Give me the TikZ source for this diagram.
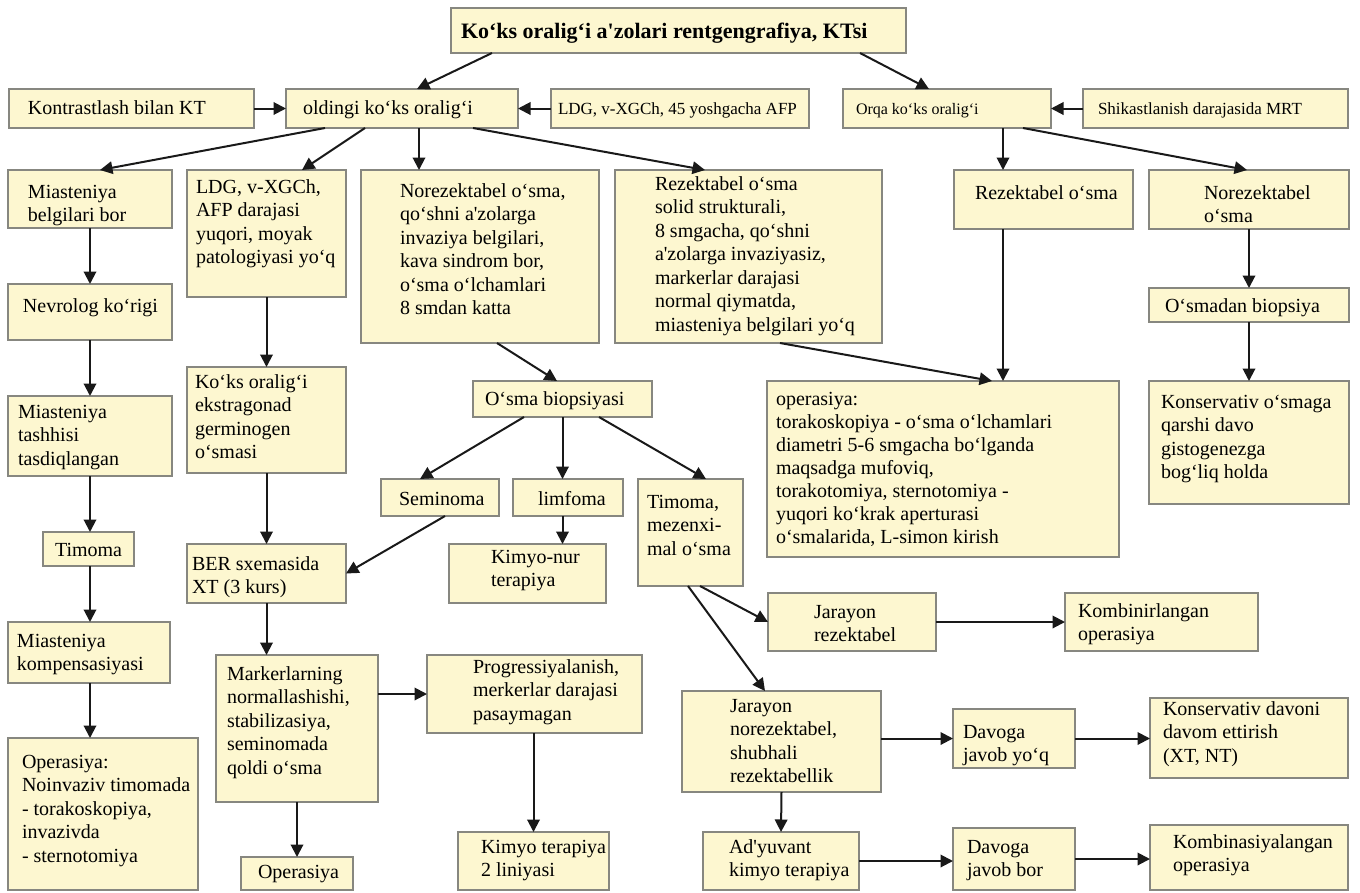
\documentclass[tikz,border=0pt]{standalone}
\usepackage{fontspec}
\setmainfont{Liberation Serif}[Ligatures=TeXOff]
\usetikzlibrary{arrows.meta}

\definecolor{boxfill}{RGB}{253,247,208}
\definecolor{boxline}{RGB}{135,135,128}
\definecolor{arrowcol}{RGB}{25,25,25}

% fixed-height strut so that every first baseline sits at a known depth
\newcommand\tstrut{\rule{0pt}{15pt}}
% \bx[opts]{name}{x1}{y1}{x2}{y2}{text x}{first baseline y}{text}
\newcommand\bx[9][]{%
  \pgfmathsetmacro\bxw{#5-#3}%
  \pgfmathsetmacro\bxh{#6-#4}%
  \pgfmathsetmacro\bxl{#7-#3}%
  \pgfmathsetmacro\bxt{#8-#4-15}%
  \node[box,#1] (#2) at (#3,#4)
    {\parbox[c][\bxh pt][t]{\bxw pt}{\raggedright\leftskip=\bxl pt\relax
      \vspace*{\bxt pt}\tstrut#9}};%
}

\tikzset{
  box/.style={draw=boxline, fill=boxfill, line width=1.4pt, inner sep=0pt,
    outer sep=0pt, anchor=north west, font=\fontsize{20}{23.5}\selectfont},
  small/.style={font=\fontsize{17}{20}\selectfont},
  arr/.style={draw=arrowcol, line width=2pt,
    -{Triangle[length=12.5pt,width=12.5pt]}},
}

\begin{document}
\begin{tikzpicture}[x=1pt,y=-1pt]
\fill[white] (0,0) rectangle (1360,892);
\useasboundingbox (0,0) rectangle (1360,892);

% ---- top rows ----
\bx[font=\fontsize{22}{26}\selectfont\bfseries]{title}{451}{8}{906}{53}{461}{38}{Ko‘ks oralig‘i a'zolari rentgengrafiya, KTsi}
\bx{kt}{9}{89}{254}{128}{28}{114}{Kontrastlash bilan KT}
\bx{old}{286}{89}{518}{128}{303}{114}{oldingi ko‘ks oralig‘i}
\bx[small]{ldgA}{551}{89}{809}{128}{558}{114}{LDG, v-XGCh, 45 yoshgacha AFP}
\bx[font=\fontsize{16}{20}\selectfont]{orqa}{843}{89}{1051}{128}{856}{114}{Orqa ko‘ks oralig‘i}
\bx[small]{shik}{1083}{89}{1348}{128}{1098}{114}{Shikastlanish darajasida MRT}

\bx{mias}{8}{170}{172}{228}{28}{198}{Miasteniya\\belgilari bor}
\bx{ldgB}{187}{170}{346}{297}{196}{193}{LDG, v-XGCh,\\AFP darajasi\\yuqori, moyak\\patologiyasi yo‘q}
\bx{norez}{361}{170}{599}{343}{400}{197}{Norezektabel o‘sma,\\qo‘shni a'zolarga\\invaziya belgilari,\\kava sindrom bor,\\o‘sma o‘lchamlari\\8 smdan katta}
\bx{rezA}{615}{170}{882}{343}{655}{190}{Rezektabel o‘sma\\solid strukturali,\\8 smgacha, qo‘shni\\a'zolarga invaziyasiz,\\markerlar darajasi\\normal qiymatda,\\miasteniya belgilari yo‘q}
\bx{rezB}{954}{170}{1133}{229}{975}{199}{Rezektabel o‘sma}
\bx{norezB}{1149}{170}{1349}{229}{1204}{199}{Norezektabel\\o‘sma}

% ---- left column ----
\bx{nevr}{8}{284}{172}{340}{23}{312}{Nevrolog ko‘rigi}
\bx{tash}{8}{396}{172}{476}{18}{418}{Miasteniya\\tashhisi\\tasdiqlangan}
\bx{timA}{43}{532}{134}{566}{55}{556}{Timoma}
\bx{komp}{8}{622}{170}{683}{17}{647}{Miasteniya\\kompensasiyasi}
\bx{operB}{8}{738}{198}{890}{22}{768}{Operasiya:\\Noinvaziv timomada\\- torakoskopiya,\\invazivda\\- sternotomiya}

% ---- germinogen branch ----
\bx{ekst}{187}{367}{346}{473}{195}{388}{Ko‘ks oralig‘i\\ekstragonad\\germinogen\\o‘smasi}
\bx{ber}{187}{544}{346}{603}{192}{570}{BER sxemasida\\XT (3 kurs)}
\bx{mark}{216}{655}{378}{802}{227}{680}{Markerlarning\\normallashishi,\\stabilizasiya,\\seminomada\\qoldi o‘sma}
\bx{operC}{241}{857}{353}{890}{258}{878}{Operasiya}
\bx{prog}{427}{655}{642}{733}{473}{673}{Progressiyalanish,\\merkerlar darajasi\\pasaymagan}
\bx{kim2}{458}{832}{609}{890}{481}{853}{Kimyo terapiya\\2 liniyasi}

% ---- biopsy branch ----
\bx{obiop}{473}{381}{652}{417}{485}{405}{O‘sma biopsiyasi}
\bx{semi}{381}{479}{499}{516}{399}{505}{Seminoma}
\bx{limf}{513}{479}{623}{516}{538}{505}{limfoma}
\bx{timom}{638}{479}{743}{586}{647}{508}{Timoma,\\mezenxi-\\mal o‘sma}
\bx{kimnur}{449}{544}{606}{603}{491}{563}{Kimyo-nur\\terapiya}

% ---- resectable tumour ----
\bx[font=\fontsize{20}{23}\selectfont]{operA}{767}{381}{1119}{557}{776}{405}{operasiya:\\torakoskopiya - o‘sma o‘lchamlari\\diametri 5-6 smgacha bo‘lganda\\maqsadga mufoviq,\\torakotomiya, sternotomiya -\\yuqori ko‘krak aperturasi\\o‘smalarida, L-simon kirish}

% ---- posterior mediastinum, right column ----
\bx{osmadan}{1149}{288}{1349}{322}{1165}{312}{O‘smadan biopsiya}
\bx{kons1}{1149}{381}{1349}{504}{1161}{408}{Konservativ o‘smaga\\qarshi davo\\gistogenezga\\bog‘liq holda}

% ---- thymoma outcomes ----
\bx{jrez}{768}{593}{936}{651}{814}{618}{Jarayon\\rezektabel}
\bx{komb1}{1065}{593}{1258}{651}{1078}{617}{Kombinirlangan\\operasiya}
\bx{jnorez}{682}{691}{881}{792}{730}{712}{Jarayon\\norezektabel,\\shubhali\\rezektabellik}
\bx{davyoq}{953}{709}{1075}{768}{963}{738}{Davoga\\javob yo‘q}
\bx{kons2}{1150}{698}{1348}{778}{1163}{715}{Konservativ davoni\\davom ettirish\\(XT, NT)}
\bx{adyu}{703}{832}{859}{890}{729}{853}{Ad'yuvant\\kimyo terapiya}
\bx{davbor}{953}{828}{1075}{890}{967}{853}{Davoga\\javob bor}
\bx{komb2}{1150}{825}{1348}{890}{1173}{848}{Kombinasiyalangan\\operasiya}

% ---- connectors ----
\draw[arr] ([xshift=-186.5pt]title.south) -- ([xshift=15pt]old.north);
\draw[arr] ([xshift=181.5pt]title.south) -- ([xshift=-18pt]orqa.north);
\draw[arr] (kt.east) -- (old.west);
\draw[arr] (ldgA.west) -- (old.east);
\draw[arr] (shik.west) -- (orqa.east);

\draw[arr] ([xshift=-77pt]old.south) -- ([xshift=10pt]mias.north);
\draw[arr] ([xshift=-37pt]old.south) -- ([xshift=35.5pt]ldgB.north);
\draw[arr] ([xshift=17pt]old.south) -- ([xshift=-61pt]norez.north);
\draw[arr] ([xshift=71pt]old.south) -- ([xshift=-43.5pt]rezA.north);
\draw[arr] ([xshift=56pt]orqa.south) -- ([xshift=-40.5pt]rezB.north);
\draw[arr] ([xshift=76pt]orqa.south) -- ([xshift=-2pt]norezB.north);

\draw[arr] (mias.south) -- (nevr.north);
\draw[arr] (nevr.south) -- (tash.north);
\draw[arr] (tash.south) -- ([xshift=1.5pt]timA.north);
\draw[arr] ([xshift=1.5pt]timA.south) -- ([xshift=1pt]komp.north);
\draw[arr] ([xshift=1pt]komp.south) -- ([xshift=-13pt]operB.north);

\draw[arr] (ldgB.south) -- (ekst.north);
\draw[arr] (ekst.south) -- (ber.north);
\draw[arr] (ber.south) -- ([xshift=-30.5pt]mark.north);
\draw[arr] (mark.south) -- (operC.north);
\draw[arr] ([yshift=34.5pt]mark.east) -- (prog.west);
\draw[arr] ([xshift=-1pt]prog.south) -- (kim2.north);

\draw[arr] ([xshift=17pt]norez.south) -- ([xshift=-5.5pt]obiop.north);
\draw[arr] ([xshift=-38.5pt]obiop.south) -- ([xshift=-20pt]semi.north);
\draw[arr] (obiop.south) -- ([xshift=-5.5pt]limf.north);
\draw[arr] ([xshift=36.5pt]obiop.south) -- ([xshift=15.5pt]timom.north);
\draw[arr] ([xshift=5pt]semi.south) -- (ber.east);
\draw[arr] ([xshift=-5.5pt]limf.south) -- ([xshift=35pt]kimnur.north);

\draw[arr] ([xshift=31.5pt]rezA.south) -- ([xshift=49pt]operA.north);
\draw[arr] ([xshift=-40.5pt]rezB.south) -- ([xshift=60pt]operA.north);
\draw[arr] (norezB.south) -- (osmadan.north);
\draw[arr] (osmadan.south) -- (kons1.north);

\draw[arr] ([xshift=9.5pt]timom.south) -- (jrez.west);
\draw[arr] ([xshift=-2.5pt]timom.south) -- ([xshift=-16.5pt]jnorez.north);
\draw[arr] (jrez.east) -- (komb1.west);
\draw[arr] (davyoq.west -| jnorez.east) -- (davyoq.west);
\draw[arr] (davyoq.east) -- (davyoq.east -| kons2.west);
\draw[arr] (jnorez.south) -- (adyu.north);
\draw[arr] (adyu.east) -- (adyu.east -| davbor.west);
\draw[arr] (davbor.east) -- (davbor.east -| komb2.west);
\end{tikzpicture}
\end{document}
